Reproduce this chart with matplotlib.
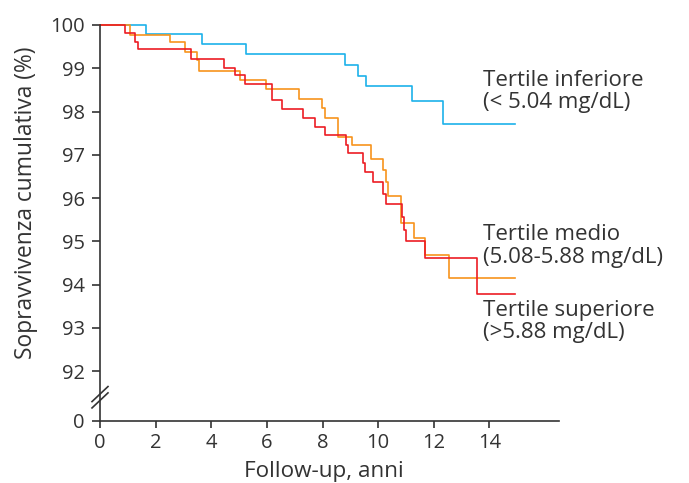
import numpy as np
import matplotlib
matplotlib.use('Agg')
import matplotlib.pyplot as plt

plt.rcParams['font.family'] = ['Open Sans', 'DejaVu Sans']

#++++++++++++++++++++++++++++++++++++++++++++++
# Kaplan-Meier step data
#++++++++++++++++++++++++++++++++++++++++++++++
x_end = 14.93

# Tertile inferiore (< 5.04 mg/dL)
t_low = [0, 1.65, 3.66, 5.24, 8.81, 9.29, 9.57, 11.22, 12.33]
s_low = [100, 99.79, 99.56, 99.32, 99.07, 98.82, 98.59, 98.25, 97.71]

# Tertile medio (5.08-5.88 mg/dL)
t_mid = [0, 1.08, 2.52, 3.06, 3.48, 3.56, 5.04, 5.97, 7.17, 7.97, 8.10,
         8.54, 9.05, 9.75, 10.19, 10.29, 10.37, 10.83, 11.30, 11.67, 12.55]
s_mid = [100, 99.78, 99.60, 99.38, 99.18, 98.94, 98.73, 98.52, 98.30, 98.07, 97.85,
         97.42, 97.23, 96.90, 96.65, 96.38, 96.04, 95.42, 95.07, 94.69, 94.16]

# Tertile superiore (>5.88 mg/dL)
t_high = [0, 0.90, 1.26, 1.35, 3.27, 4.47, 4.86, 5.22, 6.17, 6.56, 7.31, 7.73, 8.10,
          8.85, 8.93, 9.47, 9.53, 9.83, 10.19, 10.29, 10.85, 10.92, 11.00, 11.69, 13.57]
s_high = [100, 99.82, 99.61, 99.44, 99.21, 99.01, 98.85, 98.64, 98.27, 98.05, 97.86, 97.65, 97.45,
          97.23, 97.04, 96.81, 96.59, 96.36, 96.10, 95.86, 95.56, 95.27, 95.00, 94.62, 93.77]

xticks = [0, 2, 4, 6, 8, 10, 12, 14]
y_zero = 90.845   # position of the broken-axis "0"
yticks = [y_zero, 92, 93, 94, 95, 96, 97, 98, 99, 100]
yticklabels = ['0', '92', '93', '94', '95', '96', '97', '98', '99', '100']

labels = ['Tertile inferiore\n(< 5.04 mg/dL)',
          'Tertile medio\n(5.08-5.88 mg/dL)',
          'Tertile superiore\n(>5.88 mg/dL)']
label_y = [98.97, 95.39, 93.64]

c_low = '#1db1ea'
c_mid = '#f7941d'
c_high = '#ec1c24'
c_txt = '#333333'

fig = plt.figure(figsize=(6.89, 4.83), dpi=100)
ax = fig.add_axes([100/689, 1-421/483, 459/689, 396/483])

for t, s, c in [(t_low, s_low, c_low), (t_mid, s_mid, c_mid), (t_high, s_high, c_high)]:
    ax.step(t + [x_end], s + [s[-1]], where='post', color=c, lw=1.2, clip_on=False)

ax.set_xlim(0, 16.5)
ax.set_ylim(y_zero, 100)
ax.set_xticks(xticks)
ax.set_yticks(yticks)
ax.set_yticklabels(yticklabels)

for side in ['top', 'right']:
    ax.spines[side].set_visible(False)
for side in ['left', 'bottom']:
    ax.spines[side].set_color(c_txt)
    ax.spines[side].set_linewidth(1.2)
ax.tick_params(axis='both', colors=c_txt, labelcolor=c_txt, labelsize=14.5, width=1.2)
ax.tick_params(axis='x', length=5, pad=4)
ax.tick_params(axis='y', length=6, pad=5)

ax.set_xlabel('Follow-up, anni', fontsize=16.2, color=c_txt)
ax.xaxis.set_label_coords(0.488, -0.102)
ax.set_ylabel('Sopravvivenza cumulativa (%)', fontsize=16.4, color=c_txt)
ax.yaxis.set_label_coords(-0.134, 0.55)

# axis break marks
dx, dy = 0.0174, 0.019
for yc in [0.052, 0.068]:
    ax.plot([-dx, dx], [yc - dy, yc + dy], transform=ax.transAxes,
            color=c_txt, lw=1.2, clip_on=False)

for lab, yy in zip(labels, label_y):
    ax.text(13.78, yy, lab, fontsize=16, color=c_txt, va='top', ha='left',
            linespacing=1.08)

fig.savefig('out.png', dpi=100)
